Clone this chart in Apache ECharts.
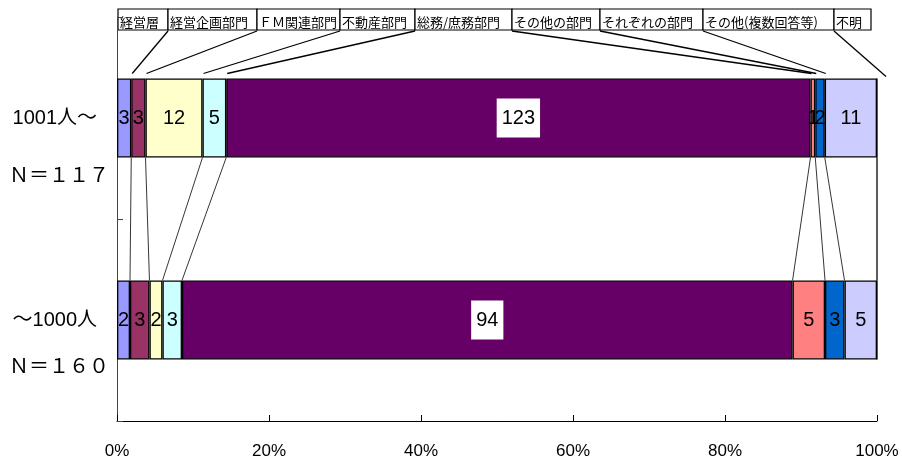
<!DOCTYPE html>
<html><head><meta charset="utf-8">
<script src="https://cdn.jsdelivr.net/npm/echarts@6/dist/echarts.min.js"></script>
<style>html,body{margin:0;padding:0;background:#fff}#c{width:902px;height:463px}</style>
</head><body><div id="c"></div>
<script>
// ---- data ----
const categories = ['1001人～', '～1000人'];
const nLabels = ['Ｎ＝１１７', 'Ｎ＝１６０'];
const seriesNames = ['経営層','経営企画部門','ＦＭ関連部門','不動産部門','総務/庶務部門','その他の部門','それぞれの部門','その他(複数回答等)','不明'];
const counts1001 = [3, 3, 12, 5, 123, 1, 2, 11, 0];
const counts1000 = [2, 3, 2, 3, 94, 5, 3, 5, 0];
const xTicks = [0, 20, 40, 60, 80, 100];

// ---- style / layout ----
const colors = ['#9999FF','#993366','#FFFFCC','#CCFFFF','#660066','#FF8080','#0066CC','#CCCCFF','#FFFFFF'];
const boxEdges = [118, 168, 257, 340, 415, 512, 600, 703, 834, 871];
const boxTop = 9, boxBottom = 30;
const BAR_W = 79;
const FONT = '"Liberation Sans", Arial, "Noto Sans CJK JP", sans-serif';
const NARROW = '"Liberation Sans Narrow", "Liberation Sans", Arial, sans-serif';

const rows = [counts1001, counts1000];
const totals = rows.map(r => r.reduce((a, b) => a + b, 0));

const chart = echarts.init(document.getElementById('c'), null, {renderer: 'canvas'});

const series = seriesNames.map((name, i) => ({
  name, type: 'bar', stack: 'all', barWidth: BAR_W,
  data: rows.map((r, ci) => ({value: r[i] / totals[ci] * 100, count: r[i]})),
  itemStyle: {color: colors[i], borderColor: '#000', borderWidth: 1.3},
  label: {
    show: true, position: 'inside', color: '#000', fontSize: 20, fontFamily: FONT,
    formatter: p => p.data.count ? String(p.data.count) : '',
    backgroundColor: i === 4 ? '#fff' : 'transparent',
    padding: i === 4 ? [10, 5, 9, 5] : 0
  },
  emphasis: {disabled: true},
  silent: true
}));

chart.setOption({
  animation: false,
  grid: {left: 117, right: 25, top: 17, bottom: 42},
  xAxis: {
    type: 'value', min: xTicks[0], max: xTicks[xTicks.length - 1], interval: xTicks[1] - xTicks[0],
    axisLine: {show: true, lineStyle: {color: '#000', width: 1}},
    axisTick: {show: true, inside: true, length: 6, lineStyle: {color: '#000'}},
    splitLine: {show: false},
    axisLabel: {formatter: '{value}%', fontSize: 17, color: '#000', fontFamily: NARROW, margin: 22}
  },
  yAxis: {
    type: 'category', inverse: true, data: categories,
    axisLine: {show: true, lineStyle: {color: '#444', width: 1}},
    axisTick: {show: true, inside: true, length: 6, lineStyle: {color: '#444'}},
    axisLabel: {fontSize: 20, color: '#000', fontFamily: FONT, margin: 20}
  },
  series
});

// ---- annotations computed from the chart's scales ----
const g = [];
const px = (v, ci) => chart.convertToPixel({gridIndex: 0}, [v, ci]);
const cum = rows.map((r, ci) => {
  const out = [0]; let s = 0;
  r.forEach(v => { s += v / totals[ci] * 100; out.push(s); });
  return out;
});

// connector lines between the two bars
for (let k = 1; k < cum[0].length; k++) {
  const a = px(cum[0][k], 0), b = px(cum[1][k], 1);
  g.push({type: 'line', shape: {x1: a[0], y1: a[1] + BAR_W / 2, x2: b[0], y2: b[1] - BAR_W / 2},
    style: {stroke: '#000', lineWidth: 0.8}, silent: true});
}

// legend-name boxes
seriesNames.forEach((name, i) => {
  g.push({type: 'rect', shape: {x: boxEdges[i], y: boxTop, width: boxEdges[i + 1] - boxEdges[i], height: boxBottom - boxTop},
    style: {fill: '#fff', stroke: '#000', lineWidth: 1.2}, silent: true});
  g.push({type: 'text', x: boxEdges[i] + 2, y: 22.5,
    style: {text: name, fontSize: 13, fill: '#000', fontFamily: '"Noto Sans CJK JP", sans-serif', verticalAlign: 'middle', align: 'left'}, silent: true});
});

// leader lines from boxes to the top bar segments
for (let i = 0; i < seriesNames.length - 1; i++) {
  const p = px(cum[0][i + 1], 0);
  const last = i === seriesNames.length - 2;
  g.push({type: 'line', shape: {x1: boxEdges[i + 1], y1: boxBottom + 1, x2: p[0] + (last ? 9 : 1), y2: p[1] - BAR_W / 2 - (last ? 2 : 5)},
    style: {stroke: '#000', lineWidth: 1.3}, silent: true});
}

// N labels
const nY = [176, 367];
nLabels.forEach((t, ci) => {
  g.push({type: 'text', x: 9, y: nY[ci],
    style: {text: t, fontSize: 20, fill: '#000', fontFamily: FONT, verticalAlign: 'middle'}, silent: true});
});

chart.setOption({graphic: g});
</script>
</body></html>
